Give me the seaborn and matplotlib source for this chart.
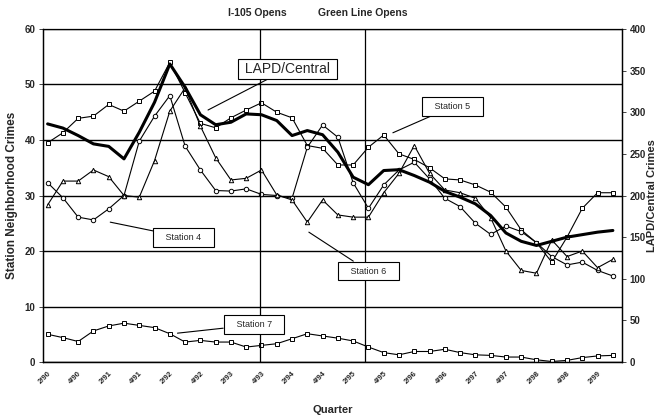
import numpy as np
import pandas as pd
import seaborn as sns
import matplotlib.pyplot as plt

#%% data (quarterly, 2/90 .. 3/99)
quarters = ['2/90', '3/90', '4/90', '1/91', '2/91', '3/91', '4/91', '1/92', '2/92', '3/92',
            '4/92', '1/93', '2/93', '3/93', '4/93', '1/94', '2/94', '3/94', '4/94', '1/95',
            '2/95', '3/95', '4/95', '1/96', '2/96', '3/96', '4/96', '1/97', '2/97', '3/97',
            '4/97', '1/98', '2/98', '3/98', '4/98', '1/99', '2/99', '3/99']

station4 = [32.3, 29.6, 26.1, 25.6, 27.6, 30.0, 39.8, 44.3, 48.0, 38.9,
            34.6, 30.9, 30.8, 31.2, 30.2, 30.0, 29.5, 38.7, 42.7, 40.5,
            32.3, 27.7, 31.9, 34.6, 36.0, 33.0, 29.5, 28.0, 25.0, 23.0,
            24.5, 23.5, 21.5, 19.0, 17.5, 18.0, 16.5, 15.5]

station5 = [39.5, 41.3, 43.9, 44.3, 46.4, 45.2, 47.0, 48.8, 54.0, 48.5,
            43.0, 42.2, 44.0, 45.4, 46.7, 45.0, 44.0, 39.0, 38.5, 35.5,
            35.5, 38.7, 40.9, 37.5, 36.5, 35.0, 33.0, 32.8, 31.9, 30.6,
            27.9, 23.8, 21.5, 18.0, 22.5, 27.7, 30.5, 30.5]

station6 = [28.3, 32.6, 32.6, 34.6, 33.4, 30.0, 29.7, 36.3, 45.2, 49.4,
            42.5, 36.8, 32.8, 33.1, 34.6, 30.1, 29.2, 25.2, 29.2, 26.5,
            26.1, 26.1, 30.5, 34.0, 39.0, 34.0, 31.0, 30.5, 29.5, 26.0,
            20.0, 16.5, 16.0, 22.0, 19.0, 20.0, 17.0, 18.5]

station7 = [5.0, 4.4, 3.7, 5.6, 6.5, 7.0, 6.6, 6.2, 5.1, 3.6,
            3.9, 3.6, 3.6, 2.7, 3.0, 3.3, 4.2, 5.1, 4.7, 4.3,
            3.8, 2.7, 1.7, 1.3, 1.9, 1.9, 2.3, 1.7, 1.3, 1.2,
            0.9, 0.9, 0.4, 0.1, 0.3, 0.8, 1.1, 1.2]

lapd_central = [286, 281, 272, 262, 259, 244, 276, 312, 358, 330,
                297, 285, 288, 298, 297, 290, 272, 278, 273, 252,
                222, 213, 230, 231, 224, 216, 205, 198, 190, 176,
                155, 145, 140, 145, 150, 153, 156, 158]

#%%
df = pd.DataFrame({'q': np.arange(len(quarters)),
                   'Station 4': station4, 'Station 5': station5,
                   'Station 6': station6, 'Station 7': station7,
                   'LAPD/Central': lapd_central})

sns.set_style('white')
plt.rcParams['font.family'] = ['Liberation Sans', 'DejaVu Sans']

fig = plt.figure(figsize=(6.59, 4.2), dpi=100)
ax = fig.add_axes([0.0653, 0.138, 0.8786, 0.793])
ax2 = ax.twinx()

mk = dict(color='black', lw=0.8, markersize=3.2, markerfacecolor='white',
          markeredgecolor='black', markeredgewidth=0.7)
sns.lineplot(data=df, x='q', y='Station 5', marker='s', ax=ax, **mk)
sns.lineplot(data=df, x='q', y='Station 4', marker='o', ax=ax, **mk)
sns.lineplot(data=df, x='q', y='Station 6', marker='^', ax=ax, **mk)
sns.lineplot(data=df, x='q', y='Station 7', marker='s', ax=ax, **mk)
sns.lineplot(data=df, x='q', y='LAPD/Central', ax=ax2, color='black', lw=2.2)

# axes
ax.set_xlim(-0.3, 37.6)
ax.set_ylim(0, 60)
ax2.set_ylim(0, 400)
ax.set_yticks(range(0, 61, 10))
ax2.set_yticks(range(0, 401, 50))
ax.set_xticks(df['q'][::2])
ax.set_xticklabels(quarters[::2], rotation=45, ha='right', rotation_mode='anchor',
                   fontsize=5.5, fontweight='bold')
ax.set_xticks(df['q'], minor=True)
for a in (ax, ax2):
    a.tick_params(axis='y', labelsize=7, length=3, width=0.6, pad=2.5)
    for lab in a.get_yticklabels():
        lab.set_fontweight('bold')
    for s in a.spines.values():
        s.set_color('black')
        s.set_linewidth(0.9)
ax.spines['top'].set_linewidth(0.6)
ax.tick_params(axis='x', which='both', length=2, width=0.6, pad=4)
ax.yaxis.grid(True, color='black', lw=1.0)
ax.set_axisbelow(True)

ax.set_xlabel('Quarter', fontsize=8, fontweight='bold', labelpad=14)
ax.set_ylabel('Station Neighborhood Crimes', fontsize=8.5, fontweight='bold', labelpad=5)
ax2.set_ylabel('LAPD/Central Crimes', fontsize=8, fontweight='bold', labelpad=1)

# events
for xv, txt in [(13.9, 'I-105 Opens'), (20.8, 'Green Line Opens')]:
    ax.axvline(xv, color='black', lw=0.9)
    ax.text(xv - 0.2, 62.9, txt, ha='center', va='center', fontsize=7.5, fontweight='bold')

# labels with pointers
notes = [(' LAPD/Central ', 15.7, 52.8, 10.5, 45.4, 10, 0.2),
         ('   Station 5   ', 26.5, 46.0, 22.6, 41.3, 6.5, 0.55),
         ('   Station 4   ', 8.9, 22.5, 4.1, 25.2, 6.5, 0.55),
         ('   Station 6   ', 21.0, 16.4, 17.1, 23.4, 6.5, 0.55),
         ('   Station 7   ', 13.5, 6.7, 8.5, 5.2, 6.5, 0.55)]
for txt, tx, ty, px, py, fs, pad in notes:
    ax.annotate(txt, xy=(px, py), xytext=(tx, ty), fontsize=fs, ha='center', va='center',
                bbox=dict(boxstyle='square,pad=%s' % pad, fc='white', ec='black', lw=0.8),
                arrowprops=dict(arrowstyle='-', color='black', lw=0.8,
                                shrinkA=0, shrinkB=0))

fig.savefig('out.png', dpi=100)
